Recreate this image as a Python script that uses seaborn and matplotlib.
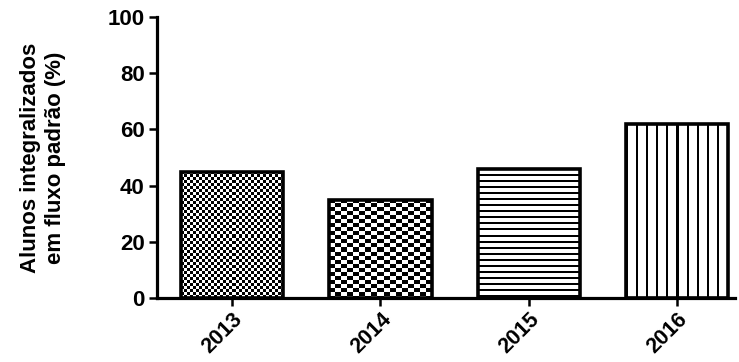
import numpy as np
import pandas as pd
import matplotlib.pyplot as plt
import matplotlib.transforms as mtransforms
import seaborn as sns

# Data
years = ['2013', '2014', '2015', '2016']
values = [45, 35, 46, 62]
yticks = [0, 20, 40, 60, 80, 100]

# fill for each bar: kind, cell/period (px), cell height / line thickness (px)
patterns = [('checker', 3, 3), ('checker', 6, 4), ('hlines', 6, 2), ('vlines', 10, 2)]

sns.set_style('ticks')
plt.rcParams['font.family'] = ['Liberation Sans', 'DejaVu Sans']
plt.rcParams['font.weight'] = 'bold'
plt.rcParams['axes.labelweight'] = 'bold'
for key in ['text.color', 'axes.labelcolor', 'xtick.color', 'ytick.color', 'axes.edgecolor']:
    plt.rcParams[key] = 'black'

df = pd.DataFrame({'year': years, 'value': values})

fig = plt.figure(figsize=(7.39, 3.62), dpi=100)
ax = fig.add_axes([0.2125, 0.177, 0.782, 0.776])
sns.barplot(data=df, x='year', y='value', color='white', width=0.69,
            edgecolor='black', linewidth=2.6, ax=ax)

ax.set_xlim(-0.506, 3.39)
ax.set_ylim(0, 100)


def texture(kind, a, b, w, h):
    yy, xx = np.mgrid[0:h, 0:w]
    if kind == 'checker':
        dark = (xx // a + yy // b) % 2 == 0
    elif kind == 'hlines':
        dark = (yy % a) < b
    else:
        dark = (xx % a) < b
    return np.where(dark, 0.0, 1.0)


# fill each bar with its black/white pattern, clipped to the bar
for p, (kind, a, b) in zip(ax.patches, patterns):
    x0, w, h = p.get_x(), p.get_width(), p.get_height()
    (px0, py0), (px1, py1) = ax.transData.transform([(x0, 0), (x0 + w, h)])
    img = texture(kind, a, b, int(round(px1 - px0)), int(round(py1 - py0)))
    ax.imshow(img, cmap='gray', vmin=0, vmax=1, extent=(x0, x0 + w, 0, h),
              aspect='auto', interpolation='nearest', clip_path=p, zorder=2)
    p.set_facecolor('none')
    p.set_zorder(3)

ax.set_xlim(-0.506, 3.39)
ax.set_ylim(0, 100)
ax.set_yticks(yticks)
ax.set_yticklabels([str(t) for t in yticks], fontsize=16, fontweight='bold')
ax.set_xticks(range(len(years)))
ax.set_xticklabels(years, rotation=45, ha='right', rotation_mode='anchor',
                   fontsize=15.5, fontweight='bold')
shift = mtransforms.ScaledTranslation(-3 / 72, 0, fig.dpi_scale_trans)
for lbl in ax.get_xticklabels():
    lbl.set_transform(lbl.get_transform() + shift)

ax.set_xlabel('')
ax.set_ylabel('Alunos integralizados\nem fluxo padrão (%)', fontsize=16,
              fontweight='bold', linespacing=1.25)
ax.yaxis.set_label_coords(-0.157, 0.5)

sns.despine(ax=ax)
for s in ['left', 'bottom']:
    ax.spines[s].set_linewidth(2.3)
ax.tick_params(axis='both', length=6, width=1.8, pad=3)
ax.tick_params(axis='x', pad=2)

fig.savefig('out.png', dpi=100)
